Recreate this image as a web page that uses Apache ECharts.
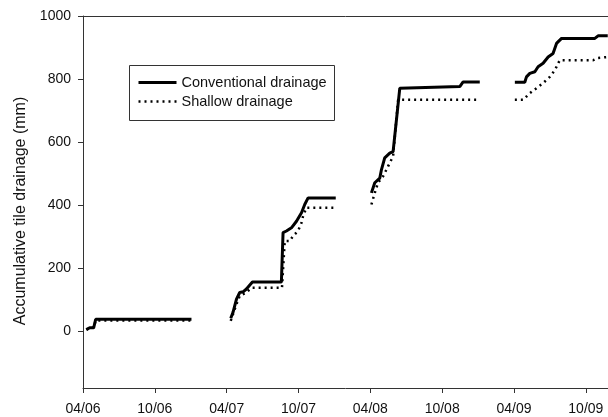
<!DOCTYPE html>
<html>
<head>
<meta charset="utf-8">
<script src="https://cdn.jsdelivr.net/npm/echarts@6/dist/echarts.min.js"></script>
<style>html,body{margin:0;padding:0;background:#fff}#c{width:608px;height:417px}</style>
</head>
<body>
<div id="c"></div>
<script>
// x = months since April 2006
var tickLabels = ['04/06', '10/06', '04/07', '10/07', '04/08', '10/08', '04/09', '10/09'];
var seriesNames = ['Conventional drainage', 'Shallow drainage'];

var conv2006 = [[0.28, 5], [0.56, 11], [0.89, 11], [1.06, 38], [9.06, 38]];
var conv2007 = [[12.34, 41], [12.53, 60], [12.82, 102], [13.09, 123], [13.37, 125], [13.65, 134], [14.15, 156], [16.57, 156], [16.71, 313], [16.99, 318], [17.41, 328], [17.83, 349], [18.25, 376], [18.52, 402], [18.8, 423], [21.11, 423]];
var conv2008 = [[24.09, 439], [24.37, 471], [24.79, 486], [24.93, 513], [25.2, 550], [25.62, 565], [25.9, 570], [26.46, 771], [26.6, 776], [31.47, 776], [31.75, 791], [33.14, 791]];
var conv2009 = [[36.07, 790], [36.9, 790], [37.04, 807], [37.32, 818], [37.74, 823], [38.01, 839], [38.43, 850], [38.85, 870], [39.26, 881], [39.55, 913], [39.97, 929], [42.75, 929], [43.02, 937], [43.83, 937]];

var shal2006 = [[0.28, 5], [0.56, 11], [0.89, 11], [1.06, 34], [9.06, 34]];
var shal2007 = [[12.34, 33], [12.82, 86], [13.09, 112], [13.6, 122], [14.1, 138], [16.62, 138], [16.85, 286], [17.27, 286], [17.54, 302], [17.96, 318], [18.25, 344], [18.38, 365], [18.66, 392], [21.11, 392]];
var shal2008 = [[24.09, 402], [24.37, 439], [24.64, 471], [25.06, 491], [25.48, 523], [25.9, 555], [26.32, 734], [33.14, 734]];
var shal2009 = [[36.07, 734], [36.76, 734], [37.32, 755], [37.88, 771], [38.43, 787], [38.99, 807], [39.41, 828], [39.82, 860], [42.61, 860], [43.02, 867], [43.83, 870]];

function joinSeasons(list) {
  var out = [];
  list.forEach(function (seg, i) {
    if (i > 0) out.push([seg[0][0] - 0.01, null]);
    seg.forEach(function (p) { out.push(p); });
  });
  return out;
}

var solidStyle = {color: '#000', width: 3};
var dotStyle = {color: '#000', width: 2.5, type: [2, 4]};

var chart = echarts.init(document.getElementById('c'), null, {renderer: 'canvas'});
var font = 'Liberation Sans, Arial, sans-serif';
chart.setOption({
  animation: false,
  backgroundColor: '#fff',
  grid: {left: 83, right: 0, top: 16, bottom: 29, containLabel: false},
  xAxis: [{
    type: 'value', min: 0, max: 43.85, interval: 6,
    axisLine: {show: true, onZero: false, lineStyle: {color: '#333', width: 1}},
    axisTick: {show: true, length: 5, lineStyle: {color: '#333'}},
    axisLabel: {margin: 14, fontSize: 14, fontFamily: font, color: '#111',
      formatter: function (v) { var i = Math.round(v / 6); return tickLabels[i] || ''; }},
    splitLine: {show: false}
  }, {
    type: 'value', min: 0, max: 43.85, position: 'top',
    axisLine: {show: true, onZero: false, lineStyle: {color: '#333', width: 1}},
    axisTick: {show: false}, axisLabel: {show: false}, splitLine: {show: false}
  }],
  yAxis: {
    type: 'value', min: -180, max: 1000,
    axisLine: {show: true, onZero: false, lineStyle: {color: '#333', width: 1}},
    axisTick: {show: true, length: 5, lineStyle: {color: '#333'},
      customValues: [0, 200, 400, 600, 800, 1000]},
    axisLabel: {margin: 12, fontSize: 14, fontFamily: font, color: '#111',
      customValues: [0, 200, 400, 600, 800, 1000],
      formatter: function (v) { return String(v); }},
    splitLine: {show: false},
    name: 'Accumulative tile drainage (mm)', nameLocation: 'middle', nameGap: 52,
    nameTextStyle: {fontSize: 16, fontFamily: font, color: '#111', padding: [0, 18, 0, 0]}
  },
  legend: {
    orient: 'vertical', left: 137, top: 75, itemGap: 4, padding: 0,
    itemWidth: 38, itemHeight: 14,
    itemStyle: {opacity: 0},
    textStyle: {fontSize: 14.5, fontFamily: font, color: '#111'},
    data: [
      {name: seriesNames[0], lineStyle: {width: 3, color: '#000', type: 'solid'}},
      {name: seriesNames[1], lineStyle: {width: 2.5, color: '#000', type: [2, 4]}}
    ]
  },
  graphic: [{
    type: 'rect', left: 127, top: 63, z: 100,
    shape: {width: 205, height: 55},
    style: {fill: 'none', stroke: '#333', lineWidth: 1}
  }],
  series: [{
    name: seriesNames[0], type: 'line', symbol: 'none', connectNulls: false,
    data: joinSeasons([conv2006, conv2007, conv2008, conv2009]),
    lineStyle: solidStyle, itemStyle: {color: '#000'}, z: 3
  }, {
    name: seriesNames[1], type: 'line', symbol: 'none', connectNulls: false,
    data: joinSeasons([shal2006, shal2007, shal2008, shal2009]),
    lineStyle: dotStyle, itemStyle: {color: '#000'}, z: 2
  }]
});
</script>
</body>
</html>
